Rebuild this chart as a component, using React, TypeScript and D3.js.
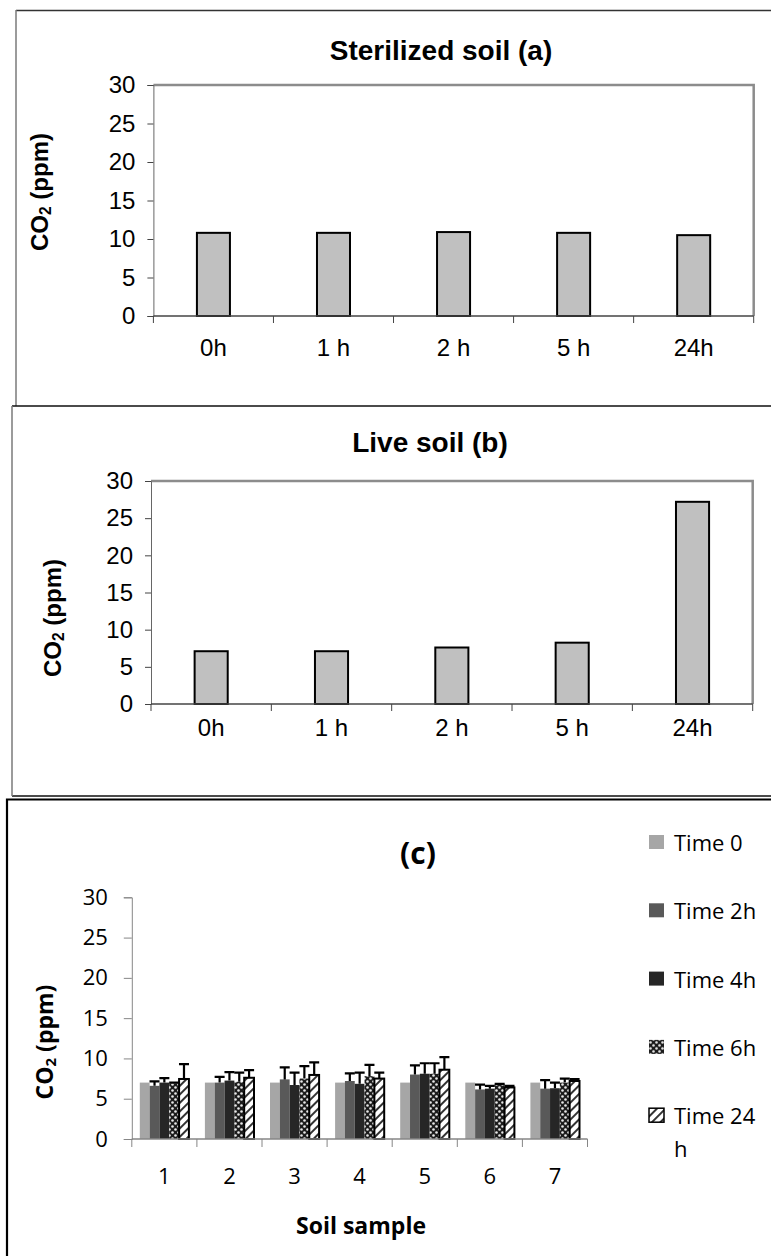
import * as d3 from 'd3';
import { useEffect, useRef } from 'react';

// panels (a) and (b)
const timeLabels = ['0h', '1 h', '2 h', '5 h', '24h'];
const sterilizedValues = [10.8, 10.8, 10.9, 10.8, 10.5];
const liveValues = [7.1, 7.1, 7.6, 8.25, 27.2];
const yTicks = [0, 5, 10, 15, 20, 25, 30];

// panel (c)
const soilSamples = ['1', '2', '3', '4', '5', '6', '7'];
const seriesNames = ['Time 0', 'Time 2h', 'Time 4h', 'Time 6h', 'Time 24 h'];
const time0 = [7.0, 7.0, 7.0, 7.0, 7.0, 7.0, 7.0];
const time2h = [6.6, 7.0, 7.4, 7.2, 8.0, 6.15, 6.25];
const time2hErr = [0.55, 0.7, 1.5, 0.95, 1.15, 0.6, 1.05];
const time4h = [7.0, 7.25, 6.7, 6.85, 8.1, 6.25, 6.3];
const time4hErr = [0.55, 1.05, 1.55, 1.4, 1.3, 0.35, 0.7];
const time6h = [6.9, 7.1, 7.5, 7.8, 8.1, 6.8, 7.0];
const time6hErr = [0.1, 1.15, 1.55, 1.4, 1.3, 0.05, 0.5];
const time24h = [7.45, 7.6, 7.95, 7.5, 8.6, 6.4, 7.2];
const time24hErr = [1.85, 0.95, 1.55, 0.75, 1.55, 0.2, 0.25];

const ARIAL = '"Liberation Sans", Arial, sans-serif';
const CALIBRI = '"Open Sans", Lato, sans-serif';

function addYLabel(svg, x, y, size, font) {
    const t = svg.append('text')
        .attr('transform', `translate(${x},${y}) rotate(-90)`)
        .attr('text-anchor', 'middle')
        .attr('dominant-baseline', 'central')
        .attr('font-family', font)
        .attr('font-size', size)
        .attr('font-weight', 'bold');
    t.append('tspan').text('CO');
    t.append('tspan').attr('dy', size * 0.25).attr('font-size', size * 0.65).text('2');
    t.append('tspan').attr('dy', -size * 0.25).text(' (ppm)');
}

function drawTimePanel(svg, title, values, box) {
    const { left, right, top, bottom } = box;

    const x = d3.scaleBand().domain(timeLabels).range([left, right]);
    const y = d3.scaleLinear().domain([0, 30]).range([bottom, top]);
    const bw = x.bandwidth() * 0.275;

    // plot area frame (top + right)
    svg.append('path')
        .attr('d', `M${left},${top}H${right}V${bottom}`)
        .attr('fill', 'none')
        .attr('stroke', '#8c8c8c')
        .attr('stroke-width', 2.5);

    svg.append('g')
        .selectAll('rect')
        .data(values)
        .join('rect')
        .attr('x', (d, i) => x(timeLabels[i]) + (x.bandwidth() - bw) / 2)
        .attr('y', d => y(d))
        .attr('width', bw)
        .attr('height', d => bottom - y(d))
        .attr('fill', '#c0c0c0')
        .attr('stroke', '#000')
        .attr('stroke-width', 2);

    const yAxis = svg.append('g')
        .attr('transform', `translate(${left},0)`)
        .call(d3.axisLeft(y).tickValues(yTicks).tickSize(6).tickPadding(12))
        .attr('font-family', ARIAL)
        .attr('font-size', 24);
    yAxis.select('.domain').attr('stroke', '#666');
    yAxis.selectAll('line').attr('stroke', '#444');

    // x axis with ticks between categories
    svg.append('line')
        .attr('x1', left).attr('x2', right)
        .attr('y1', bottom).attr('y2', bottom)
        .attr('stroke', '#444')
        .attr('stroke-width', 1.5);
    const bounds = [...timeLabels.map(d => x(d)), right];
    svg.append('g')
        .selectAll('line')
        .data(bounds)
        .join('line')
        .attr('x1', d => d).attr('x2', d => d)
        .attr('y1', bottom).attr('y2', bottom + 7)
        .attr('stroke', '#444');
    svg.append('g')
        .selectAll('text')
        .data(timeLabels)
        .join('text')
        .attr('x', d => x(d) + x.bandwidth() / 2)
        .attr('y', box.xLabelY)
        .attr('text-anchor', 'middle')
        .attr('dominant-baseline', 'central')
        .attr('font-family', ARIAL)
        .attr('font-size', 24)
        .text(d => d);

    svg.append('text')
        .attr('x', box.titleX)
        .attr('y', box.titleY)
        .attr('text-anchor', 'middle')
        .attr('dominant-baseline', 'central')
        .attr('font-family', ARIAL)
        .attr('font-size', 28)
        .attr('font-weight', 'bold')
        .text(title);

    addYLabel(svg, box.yLabelX, box.yLabelY, 24, ARIAL);
}

function drawSoilPanel(svg) {
    const left = 131.8, right = 587.5, top = 897.3, bottom = 1139;
    const axisColor = '#868686';

    const x = d3.scaleBand().domain(soilSamples).range([left, right]);
    const inner = d3.scaleBand()
        .domain(seriesNames)
        .range([8, x.bandwidth() - 8]);
    const y = d3.scaleLinear().domain([0, 30]).range([bottom, top]);

    const defs = svg.append('defs');
    const check = defs.append('pattern')
        .attr('id', 'p6h')
        .attr('patternUnits', 'userSpaceOnUse')
        .attr('width', 6).attr('height', 6);
    check.append('rect').attr('width', 6).attr('height', 6).attr('fill', '#1c1c1c');
    check.append('circle').attr('cx', 1.5).attr('cy', 1.5).attr('r', 1.3).attr('fill', '#e8e8e8');
    check.append('circle').attr('cx', 4.5).attr('cy', 4.5).attr('r', 1.3).attr('fill', '#e8e8e8');

    const stripe = defs.append('pattern')
        .attr('id', 'p24h')
        .attr('patternUnits', 'userSpaceOnUse')
        .attr('width', 6).attr('height', 6)
        .attr('patternTransform', 'rotate(45)');
    stripe.append('rect').attr('width', 6).attr('height', 6).attr('fill', '#fff');
    stripe.append('rect').attr('width', 2).attr('height', 6).attr('fill', '#333');

    const series = [
        { name: seriesNames[0], values: time0, err: null, fill: '#a6a6a6', stroke: 'none' },
        { name: seriesNames[1], values: time2h, err: time2hErr, fill: '#595959', stroke: 'none' },
        { name: seriesNames[2], values: time4h, err: time4hErr, fill: '#262626', stroke: 'none' },
        { name: seriesNames[3], values: time6h, err: time6hErr, fill: 'url(#p6h)', stroke: 'none' },
        { name: seriesNames[4], values: time24h, err: time24hErr, fill: 'url(#p24h)', stroke: '#000' },
    ];

    series.forEach(s => {
        const g = svg.append('g');
        g.selectAll('rect')
            .data(s.values)
            .join('rect')
            .attr('x', (d, i) => x(soilSamples[i]) + inner(s.name))
            .attr('y', d => y(d))
            .attr('width', inner.bandwidth())
            .attr('height', d => bottom - y(d))
            .attr('fill', s.fill)
            .attr('stroke', s.stroke)
            .attr('stroke-width', 2);
        if (s.err) {
            const cx = (i) => x(soilSamples[i]) + inner(s.name) + inner.bandwidth() / 2;
            g.selectAll('.err')
                .data(s.values)
                .join('path')
                .attr('class', 'err')
                .attr('d', (d, i) => `M${cx(i)},${y(d)}V${y(d + s.err[i])}M${cx(i) - 5},${y(d + s.err[i])}H${cx(i) + 5}`)
                .attr('fill', 'none')
                .attr('stroke', '#000')
                .attr('stroke-width', 2.2);
        }
    });

    const yAxis = svg.append('g')
        .attr('transform', `translate(${left},0)`)
        .call(d3.axisLeft(y).tickValues(yTicks).tickSize(8).tickPadding(16))
        .attr('font-family', CALIBRI)
        .attr('font-size', 22);
    yAxis.selectAll('line, .domain').attr('stroke', axisColor);

    svg.append('line')
        .attr('x1', left).attr('x2', right)
        .attr('y1', bottom).attr('y2', bottom)
        .attr('stroke', axisColor)
        .attr('stroke-width', 1.5);
    const bounds = [...soilSamples.map(d => x(d)), right];
    svg.append('g')
        .selectAll('line')
        .data(bounds)
        .join('line')
        .attr('x1', d => d).attr('x2', d => d)
        .attr('y1', bottom).attr('y2', bottom + 8)
        .attr('stroke', axisColor);
    svg.append('g')
        .selectAll('text')
        .data(soilSamples)
        .join('text')
        .attr('x', d => x(d) + x.bandwidth() / 2)
        .attr('y', 1175)
        .attr('text-anchor', 'middle')
        .attr('dominant-baseline', 'central')
        .attr('font-family', CALIBRI)
        .attr('font-size', 22)
        .text(d => d);

    svg.append('text')
        .attr('x', 361).attr('y', 1225)
        .attr('text-anchor', 'middle')
        .attr('dominant-baseline', 'central')
        .attr('font-family', CALIBRI)
        .attr('font-size', 23)
        .attr('font-weight', 'bold')
        .text('Soil sample');

    svg.append('text')
        .attr('x', 418).attr('y', 852)
        .attr('text-anchor', 'middle')
        .attr('dominant-baseline', 'central')
        .attr('font-family', CALIBRI)
        .attr('font-size', 30)
        .attr('font-weight', 'bold')
        .text('(c)');

    addYLabel(svg, 44, 1042, 23, CALIBRI);

    // legend
    const legend = svg.append('g')
        .selectAll('g')
        .data(series)
        .join('g')
        .attr('transform', (d, i) => `translate(649,${842 + i * 68.3})`);
    legend.append('rect')
        .attr('y', -7)
        .attr('width', 15)
        .attr('height', 14)
        .attr('fill', d => d.fill)
        .attr('stroke', d => d.stroke)
        .attr('stroke-width', 1.5);
    const lt = legend.append('text')
        .attr('x', 25)
        .attr('font-family', CALIBRI)
        .attr('font-size', 22)
        .attr('dominant-baseline', 'central');
    lt.each(function (d) {
        const parts = d.name === 'Time 24 h' ? ['Time 24', 'h'] : [d.name];
        const t = d3.select(this);
        parts.forEach((p, k) => {
            t.append('tspan').attr('x', 25).attr('dy', k === 0 ? 0 : 33).text(p);
        });
    });
}

function App() {
    const svgRef = useRef(null);

    useEffect(() => {
        const svg = d3.select(svgRef.current);
        svg.selectAll('*').remove();

        svg.append('rect').attr('width', 771).attr('height', 1256).attr('fill', '#fff');

        // panel frames
        svg.append('path')
            .attr('d', 'M16,10.5H771')
            .attr('stroke', '#333').attr('stroke-width', 1.5);
        svg.append('path')
            .attr('d', 'M16,10V406')
            .attr('stroke', '#7a7a7a').attr('stroke-width', 1.5);
        svg.append('path')
            .attr('d', 'M12,406H771M12,796H771')
            .attr('stroke', '#111').attr('stroke-width', 1.5);
        svg.append('path')
            .attr('d', 'M12,406V796')
            .attr('stroke', '#7a7a7a').attr('stroke-width', 1.5);
        svg.append('path')
            .attr('d', 'M7,1256V799.5H771')
            .attr('fill', 'none')
            .attr('stroke', '#000').attr('stroke-width', 2.2);

        drawTimePanel(svg, 'Sterilized soil (a)', sterilizedValues, {
            left: 153.4, right: 753.7, top: 85, bottom: 316,
            titleX: 441, titleY: 50, yLabelX: 39, yLabelY: 192, xLabelY: 347,
        });
        drawTimePanel(svg, 'Live soil (b)', liveValues, {
            left: 151, right: 752.7, top: 481, bottom: 704,
            titleX: 430, titleY: 442, yLabelX: 52, yLabelY: 618, xLabelY: 727,
        });
        drawSoilPanel(svg);
    }, []);

    return (
        <div style={{ position: 'absolute', left: 0, top: 0 }}>
            <svg ref={svgRef} width={771} height={1256} style={{ display: 'block' }} />
        </div>
    );
}

export default App;
